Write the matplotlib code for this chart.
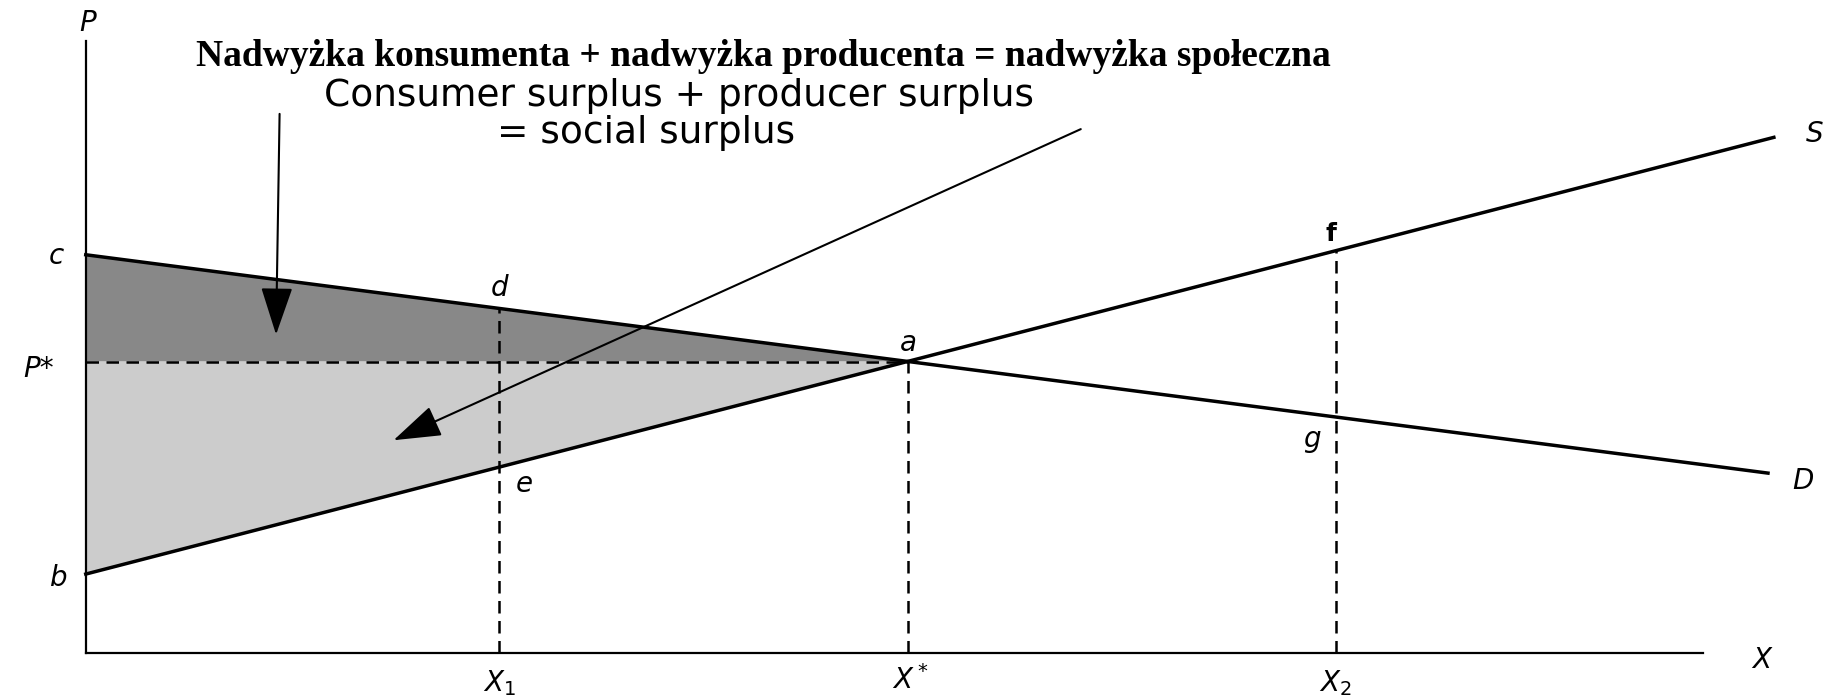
import numpy as np
import matplotlib
matplotlib.use("Agg")
import matplotlib.pyplot as plt

# dane (jednostki umowne)
demand_x = [0, 1432]
demand_p = [339, 153]
supply_x = [0, 1437]
supply_p = [67, 439]
x_star = 700
p_star = 248
x1 = 352
x2 = 1064
x_max = 1377
p_max = 521

def d_at(x):
    return np.interp(x, demand_x, demand_p)

def s_at(x):
    return np.interp(x, supply_x, supply_p)

fig = plt.figure(figsize=(18.42, 6.95), dpi=100)
ax = fig.add_axes([0, 0, 1, 1])
ax.set_xlim(-73, 1495)
ax.set_ylim(-36, 556)
ax.axis('off')

# obszary nadwyżek
ax.fill([0, x_star, 0], [demand_p[0], p_star, p_star], color='#888888', lw=0)
ax.fill([0, x_star, 0], [p_star, p_star, supply_p[0]], color='#cccccc', lw=0)

# osie
ax.plot([0, 0], [0, p_max], color='black', lw=1.6)
ax.plot([0, x_max], [0, 0], color='black', lw=1.6)

# popyt i podaż
ax.plot(demand_x, demand_p, color='black', lw=2.5)
ax.plot(supply_x, supply_p, color='black', lw=2.5)

# linie przerywane
dash = dict(color='black', lw=1.8, ls=(0, (5, 3)))
ax.plot([0, x_star], [p_star, p_star], **dash)
ax.plot([x_star, x_star], [0, p_star], **dash)
ax.plot([x1, x1], [0, d_at(x1)], **dash)
ax.plot([x2, x2], [0, s_at(x2)], **dash)

# etykiety
lab = dict(fontsize=20, family='DejaVu Sans', style='italic', ha='center', va='center')
ax.text(2, 536, 'P', **lab)
ax.text(-25, demand_p[0] - 1, 'c', **lab)
ax.text(-40, p_star - 6, 'P*', **lab)
ax.text(-23, supply_p[0] - 3, 'b', **lab)
ax.text(x1, d_at(x1) + 17, 'd', **lab)
ax.text(x1 + 21, s_at(x1) - 14, 'e', **lab)
ax.text(x_star, p_star + 16, 'a', **lab)
ax.text(x2 - 4, s_at(x2) + 14, 'f', fontsize=18, family='DejaVu Sans',
        weight='bold', ha='center', va='center')
ax.text(x2 - 20, d_at(x2) - 19, 'g', **lab)
ax.text(supply_x[1] + 35, supply_p[1] + 3, 'S', **lab)
ax.text(demand_x[1] + 30, demand_p[1] - 7, 'D', **lab)
ax.text(x_max + 50, -6, 'X', **lab)
ax.text(x1, -26, r'$X_1$', **lab)
ax.text(x_star + 2, -23, r'$X^*$', **lab)
ax.text(x2, -26, r'$X_2$', **lab)

# tytuły
ax.text(577, 508, 'Nadwyżka konsumenta + nadwyżka producenta = nadwyżka społeczna',
        fontsize=27, family='Liberation Serif', weight='bold', ha='center', va='center')
ax.text(505, 474, 'Consumer surplus + producer surplus', fontsize=27,
        family='DejaVu Sans', ha='center', va='center')
ax.text(477, 443, '= social surplus', fontsize=27,
        family='DejaVu Sans', ha='center', va='center')

# strzałki
arrow = dict(arrowstyle='-|>,head_length=1.5,head_width=0.5', color='black',
             lw=1.5, mutation_scale=20, shrinkA=0, shrinkB=0)
ax.annotate('', xy=(162, 271), xytext=(165, 459), arrowprops=arrow)
ax.annotate('', xy=(262, 181), xytext=(847, 446), arrowprops=arrow)

fig.savefig('out.png', dpi=100)
